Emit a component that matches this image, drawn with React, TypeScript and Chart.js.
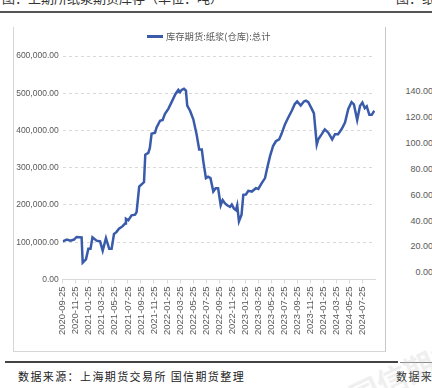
import React, { useEffect, useRef } from "react";
import { Chart, registerables } from "chart.js";

Chart.register(...registerables);

const seriesName = "库存期货:纸浆(仓库):总计";

const dates = [
  "2020-09-25", "2020-10-14", "2020-11-01", "2020-11-17", "2020-11-29", "2020-12-22", "2020-12-27",
  "2021-01-12", "2021-01-23", "2021-02-03", "2021-02-12", "2021-03-01", "2021-03-17", "2021-03-29",
  "2021-04-14", "2021-04-29", "2021-05-10", "2021-05-21", "2021-06-02", "2021-06-14", "2021-07-01",
  "2021-07-12", "2021-07-16", "2021-07-27", "2021-08-12", "2021-08-28", "2021-09-05", "2021-09-17",
  "2021-10-03", "2021-10-09", "2021-10-15", "2021-10-29", "2021-11-06", "2021-11-14", "2021-11-30",
  "2021-12-07", "2021-12-23", "2022-01-05", "2022-01-15", "2022-01-31", "2022-02-16", "2022-03-04",
  "2022-03-17", "2022-03-25", "2022-04-02", "2022-04-13", "2022-04-22", "2022-04-28", "2022-05-11",
  "2022-05-26", "2022-06-11", "2022-06-23", "2022-07-05", "2022-07-12", "2022-07-24", "2022-08-04",
  "2022-08-15", "2022-08-28", "2022-09-09", "2022-09-20", "2022-10-02", "2022-10-11", "2022-10-22",
  "2022-11-02", "2022-11-15", "2022-11-23", "2022-12-03", "2022-12-12", "2022-12-18", "2022-12-26",
  "2023-01-08", "2023-01-16", "2023-01-28", "2023-02-09", "2023-02-25", "2023-03-14", "2023-03-25",
  "2023-04-10", "2023-04-26", "2023-05-06", "2023-05-19", "2023-06-03", "2023-06-16", "2023-07-01",
  "2023-07-12", "2023-07-28", "2023-08-13", "2023-08-29", "2023-09-13", "2023-09-24", "2023-10-10",
  "2023-10-25", "2023-11-04", "2023-11-15", "2023-12-01", "2023-12-11", "2023-12-24", "2024-01-01",
  "2024-01-17", "2024-02-01", "2024-02-17", "2024-03-05", "2024-03-18", "2024-04-02", "2024-04-18",
  "2024-05-04", "2024-05-19", "2024-06-04", "2024-06-15", "2024-06-30", "2024-07-13", "2024-07-24",
  "2024-08-05", "2024-08-14", "2024-08-26", "2024-09-07", "2024-09-19",
];

const inventory = [
  102000, 107000, 104000, 107000, 114000, 113000, 45000,
  54000, 82000, 82000, 113000, 104000, 102000, 77000,
  111000, 82000, 82000, 122000, 127000, 136000, 143000,
  150000, 163000, 159000, 172000, 174000, 181000, 249000,
  258000, 261000, 335000, 340000, 353000, 391000, 394000,
  408000, 426000, 428000, 444000, 458000, 476000, 498000,
  509000, 503000, 509000, 512000, 507000, 467000, 453000,
  430000, 390000, 349000, 349000, 317000, 272000, 276000,
  272000, 236000, 245000, 245000, 199000, 213000, 204000,
  199000, 195000, 201000, 190000, 186000, 199000, 156000,
  174000, 227000, 228000, 238000, 236000, 245000, 243000,
  258000, 272000, 299000, 331000, 358000, 371000, 376000,
  391000, 417000, 435000, 453000, 471000, 478000, 467000,
  478000, 480000, 476000, 458000, 446000, 362000, 376000,
  390000, 403000, 394000, 376000, 390000, 390000, 403000,
  421000, 458000, 476000, 470000, 428000, 466000, 475000,
  460000, 465000, 442000, 442000, 453000,
];

const tickLabels = [
  "2020-09-25", "2020-11-25", "2021-01-25", "2021-03-25", "2021-05-25", "2021-07-25",
  "2021-09-25", "2021-11-25", "2022-01-25", "2022-03-25", "2022-05-25", "2022-07-25",
  "2022-09-25", "2022-11-25", "2023-01-25", "2023-03-25", "2023-05-25", "2023-07-25",
  "2023-09-25", "2023-11-25", "2024-01-25", "2024-03-25", "2024-05-25", "2024-07-25",
];

const rightAxisLabels = ["140.00", "120.00", "100.00", "80.00", "60.00", "40.00", "20.00", "0.00"];

const monthIndex = (d: string) => {
  const [y, m, dd] = d.split("-").map(Number);
  return (y - 2020) * 12 + (m - 9) + (dd - 25) / 30;
};

const LINE = "#3A5BAA";
const FONT = "'Liberation Sans', Arial, 'Noto Sans CJK SC', sans-serif";

function InventoryChart() {
  const ref = useRef<HTMLCanvasElement | null>(null);
  useEffect(() => {
    if (!ref.current) return;
    const chart = new Chart(ref.current, {
      type: "line",
      data: {
        datasets: [
          {
            label: seriesName,
            data: dates.map((d, i) => ({ x: monthIndex(d), y: inventory[i] })),
            borderColor: LINE,
            backgroundColor: LINE,
            borderWidth: 2.5,
            pointRadius: 0,
            tension: 0,
          },
        ],
      },
      options: {
        animation: false,
        responsive: false,
        maintainAspectRatio: false,
        layout: { padding: { left: 0, right: 9, top: 32, bottom: 4 } },
        plugins: {
          legend: { display: false },
          tooltip: { enabled: false },
        },
        scales: {
          x: {
            type: "linear",
            min: 0,
            max: 47.9,
            afterBuildTicks: (scale: any) => {
              scale.ticks = tickLabels.map((_, i) => ({ value: i * 2 }));
            },
            grid: {
              display: true,
              drawOnChartArea: false,
              drawTicks: true,
              tickLength: 4,
              color: "#d9d9d9",
            },
            border: { display: true, color: "#d9d9d9" },
            ticks: {
              autoSkip: false,
              maxRotation: 90,
              minRotation: 90,
              padding: 3,
              color: "#595959",
              font: { size: 9.5, family: FONT },
              callback: (v: any) => tickLabels[Math.round(Number(v) / 2)] ?? "",
            },
          },
          y: {
            min: 0,
            max: 600000,
            afterFit: (scale: any) => {
              scale.width = 48.7;
            },
            grid: {
              color: "#d9d9d9",
              drawTicks: false,
            },
            border: { display: false, dash: [3, 3] },
            ticks: {
              stepSize: 100000,
              padding: 4,
              color: "#595959",
              font: { size: 8.5, family: FONT },
              callback: (v: any) =>
                Number(v).toLocaleString("en-US", { minimumFractionDigits: 2, maximumFractionDigits: 2 }),
            },
          },
        },
      },
    } as any);
    return () => chart.destroy();
  }, []);
  return (
    <canvas
      ref={ref}
      width={370}
      height={318}
      style={{ position: "absolute", left: 14, top: 24, width: 370, height: 318 }}
    />
  );
}

export default function App() {
  return (
    <div
      style={{
        position: "fixed",
        left: 0,
        top: 0,
        width: 432,
        height: 388,
        overflow: "hidden",
        background: "#ffffff",
        fontFamily: "'Noto Sans CJK SC', sans-serif",
      }}
    >
      <div style={{ position: "absolute", left: 2, top: -12, fontSize: 13, color: "#333", whiteSpace: "nowrap" }}>
        图：上期所纸浆期货库存（单位：吨）
      </div>
      <div style={{ position: "absolute", left: 396, top: -12, fontSize: 13, color: "#333", whiteSpace: "nowrap" }}>
        图：纸
      </div>
      <div style={{ position: "absolute", left: 0, top: 11, width: 432, height: 1.5, background: "#555" }} />
      <div
        style={{
          position: "absolute",
          left: 13,
          top: 27,
          width: 371,
          height: 324,
          borderLeft: "1px solid #d6d6d6",
          borderRight: "1px solid #c8c8c8",
          borderBottom: "1px solid #d6d6d6",
        }}
      />
      <InventoryChart />
      <div
        style={{
          position: "absolute",
          left: 147,
          top: 30,
          display: "flex",
          alignItems: "center",
          whiteSpace: "nowrap",
        }}
      >
        <div style={{ width: 16, height: 3, background: LINE, marginRight: 3 }} />
        <span style={{ fontSize: 9.3, lineHeight: "12px", color: "#595959" }}>{seriesName}</span>
      </div>
      {rightAxisLabels.map((t, i) => (
        <div
          key={t}
          style={{
            position: "absolute",
            right: -1,
            top: 86 + i * 25.9,
            fontSize: 9,
            lineHeight: "10px",
            color: "#595959",
            fontFamily: FONT,
          }}
        >
          {t}
        </div>
      ))}
      <div style={{ position: "absolute", left: 5, top: 361, width: 393, height: 1.5, background: "#444" }} />
      <div style={{ position: "absolute", left: 400, top: 362, width: 32, height: 1, background: "#888" }} />
      <div
        style={{
          position: "absolute",
          left: 18,
          top: 368,
          fontSize: 11,
          letterSpacing: 1.4,
          color: "#222",
          whiteSpace: "nowrap",
        }}
      >
        数据来源：上海期货交易所 国信期货整理
      </div>
      <div
        style={{
          position: "absolute",
          left: 396,
          top: 368,
          fontSize: 11,
          letterSpacing: 1.4,
          color: "#222",
          whiteSpace: "nowrap",
        }}
      >
        数据来源
      </div>
      <div
        style={{
          position: "absolute",
          left: 345,
          top: 350,
          fontSize: 30,
          fontWeight: 700,
          color: "rgba(190,190,190,0.25)",
          transform: "rotate(-25deg)",
          whiteSpace: "nowrap",
        }}
      >
        国信期货
      </div>
    </div>
  );
}
